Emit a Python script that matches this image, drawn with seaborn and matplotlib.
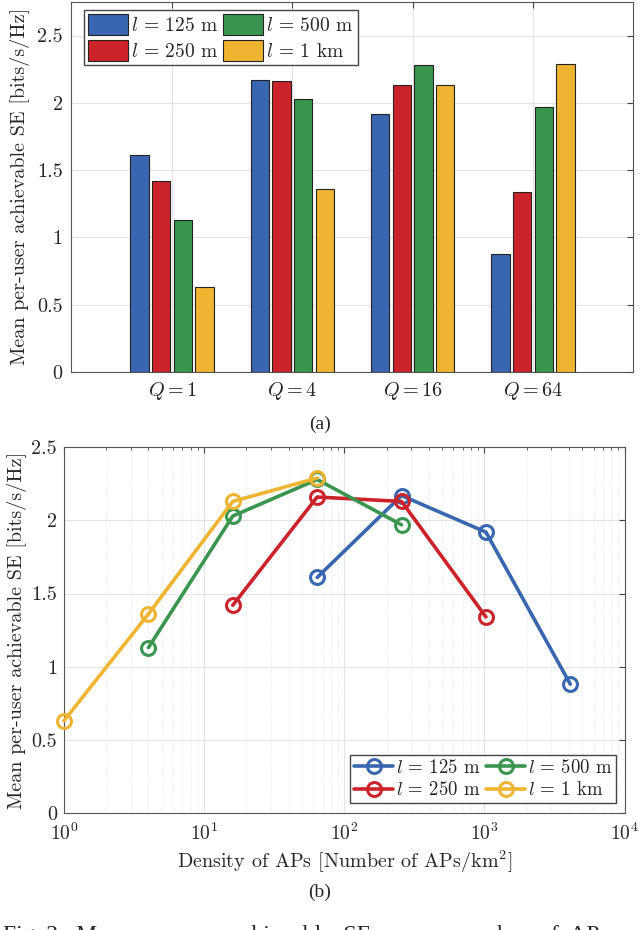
import numpy as np
import pandas as pd
import matplotlib
matplotlib.use("Agg")
import matplotlib.pyplot as plt
from matplotlib.ticker import LogLocator, NullFormatter
import seaborn as sns

# data
Q_labels = ["$Q = 1$", "$Q = 4$", "$Q = 16$", "$Q = 64$"]
l_labels = [r"$l$ = 125 m", r"$l$ = 250 m", r"$l$ = 500 m", r"$l$ = 1 km"]
se_125 = [1.61, 2.17, 1.92, 0.88]
se_250 = [1.42, 2.16, 2.13, 1.34]
se_500 = [1.13, 2.03, 2.28, 1.97]
se_1k = [0.63, 1.36, 2.13, 2.29]
dens_125 = [64, 256, 1024, 4096]
dens_250 = [16, 64, 256, 1024]
dens_500 = [4, 16, 64, 256]
dens_1k = [1, 4, 16, 64]

colors = ["#3866B0", "#CC2229", "#3A964F", "#EFB431"]

sns.set_style("white")
plt.rcParams["font.family"] = ["cmr10", "DejaVu Serif"]
plt.rcParams["mathtext.fontset"] = "cm"
plt.rcParams["axes.formatter.use_mathtext"] = True
plt.rcParams["axes.unicode_minus"] = False

fig = plt.figure(figsize=(6.4, 9.3), dpi=100)
ax1 = fig.add_axes([0.111, 0.6, 0.878, 0.398])
ax2 = fig.add_axes([0.100, 0.126, 0.876, 0.393])

# ---- (a) grouped bars
rows = []
for lab, vals in zip(l_labels, [se_125, se_250, se_500, se_1k]):
    for q, v in zip(Q_labels, vals):
        rows.append({"Q": q, "l": lab, "SE": v})
df = pd.DataFrame(rows)

sns.barplot(data=df, x="Q", y="SE", hue="l", palette=colors, ax=ax1,
            width=0.72, gap=0.15, edgecolor="#222222", linewidth=0.8,
            saturation=1, zorder=3)
ax1.set_xlim(-0.84, 3.83)
ax1.set_ylim(0, 2.75)
ax1.set_yticks([0, 0.5, 1, 1.5, 2, 2.5])
ax1.set_yticklabels(["0", "0.5", "1", "1.5", "2", "2.5"])
ax1.set_xlabel("")
ax1.set_ylabel("Mean per-user achievable SE [bits/s/Hz]", fontsize=14.5, labelpad=5)
ax1.grid(True, color="#e3e3e3", linewidth=0.8, zorder=0)
ax1.set_axisbelow(True)
ax1.tick_params(direction="in", labelsize=14.5, top=True, right=True,
                length=4, color="#444444", pad=6)
for s in ax1.spines.values():
    s.set_color("#555555")
    s.set_linewidth(0.8)
h, lb = ax1.get_legend_handles_labels()
ax1.legend(h, lb, ncol=2, loc="upper left", fontsize=14, frameon=True,
           fancybox=False, edgecolor="#444444", framealpha=1,
           bbox_to_anchor=(0.012, 0.993), borderaxespad=0.3,
           handlelength=2.1, handleheight=1.3, handletextpad=0.15,
           columnspacing=0.2, labelspacing=0.25, borderpad=0.2)

# ---- (b) SE vs AP density
for dens, vals, c, lab in zip([dens_125, dens_250, dens_500, dens_1k],
                              [se_125, se_250, se_500, se_1k], colors, l_labels):
    sns.lineplot(x=dens, y=vals, ax=ax2, color=c, marker="o", markersize=10,
                 markerfacecolor="none", markeredgecolor=c, markeredgewidth=2.2,
                 linewidth=2.6, label=lab, zorder=3, clip_on=False)
ax2.set_xscale("log")
ax2.set_xlim(1, 1e4)
ax2.set_ylim(0, 2.5)
ax2.set_yticks([0, 0.5, 1, 1.5, 2, 2.5])
ax2.set_yticklabels(["0", "0.5", "1", "1.5", "2", "2.5"])
ax2.xaxis.set_major_locator(LogLocator(base=10, numticks=10))
ax2.xaxis.set_minor_locator(LogLocator(base=10, subs=np.arange(2, 10), numticks=20))
ax2.xaxis.set_minor_formatter(NullFormatter())
ax2.set_xlabel("Density of APs [Number of APs/km$^2$]", fontsize=14.5, labelpad=3)
ax2.set_ylabel("Mean per-user achievable SE [bits/s/Hz]", fontsize=14.5, labelpad=3)
ax2.grid(True, which="major", color="#e3e3e3", linewidth=0.8, zorder=0)
ax2.grid(True, which="minor", axis="x", color="#dddddd", linewidth=0.6,
         linestyle=":", zorder=0)
ax2.set_axisbelow(True)
ax2.tick_params(which="both", direction="in", top=True, right=True,
                color="#444444")
ax2.tick_params(axis="y", which="major", length=4, pad=5, labelsize=14.5)
ax2.tick_params(axis="x", which="major", length=4, pad=7, labelsize=14)
ax2.tick_params(which="minor", length=2)
for s in ax2.spines.values():
    s.set_color("#555555")
    s.set_linewidth(0.8)
ax2.legend(ncol=2, loc="lower right", fontsize=13.5, frameon=True,
           fancybox=False, edgecolor="#444444", framealpha=1,
           bbox_to_anchor=(0.985, 0.027), borderaxespad=0,
           handlelength=2.1, handletextpad=0.15, columnspacing=0.3,
           labelspacing=0.25, borderpad=0.2)

fig.text(0.5, 1 - 424 / 930, "(a)", ha="center", va="center",
         family="Liberation Serif", fontsize=14)
fig.text(0.5, 1 - 892 / 930, "(b)", ha="center", va="center",
         family="Liberation Serif", fontsize=14)
fig.text(0.004, 1 - 936 / 930,
         "Fig. 3:  Mean  per-user  achievable  SE  versus  number  of  APs",
         ha="left", va="center", family="Liberation Serif", fontsize=17)

fig.savefig("out.png", dpi=100)
